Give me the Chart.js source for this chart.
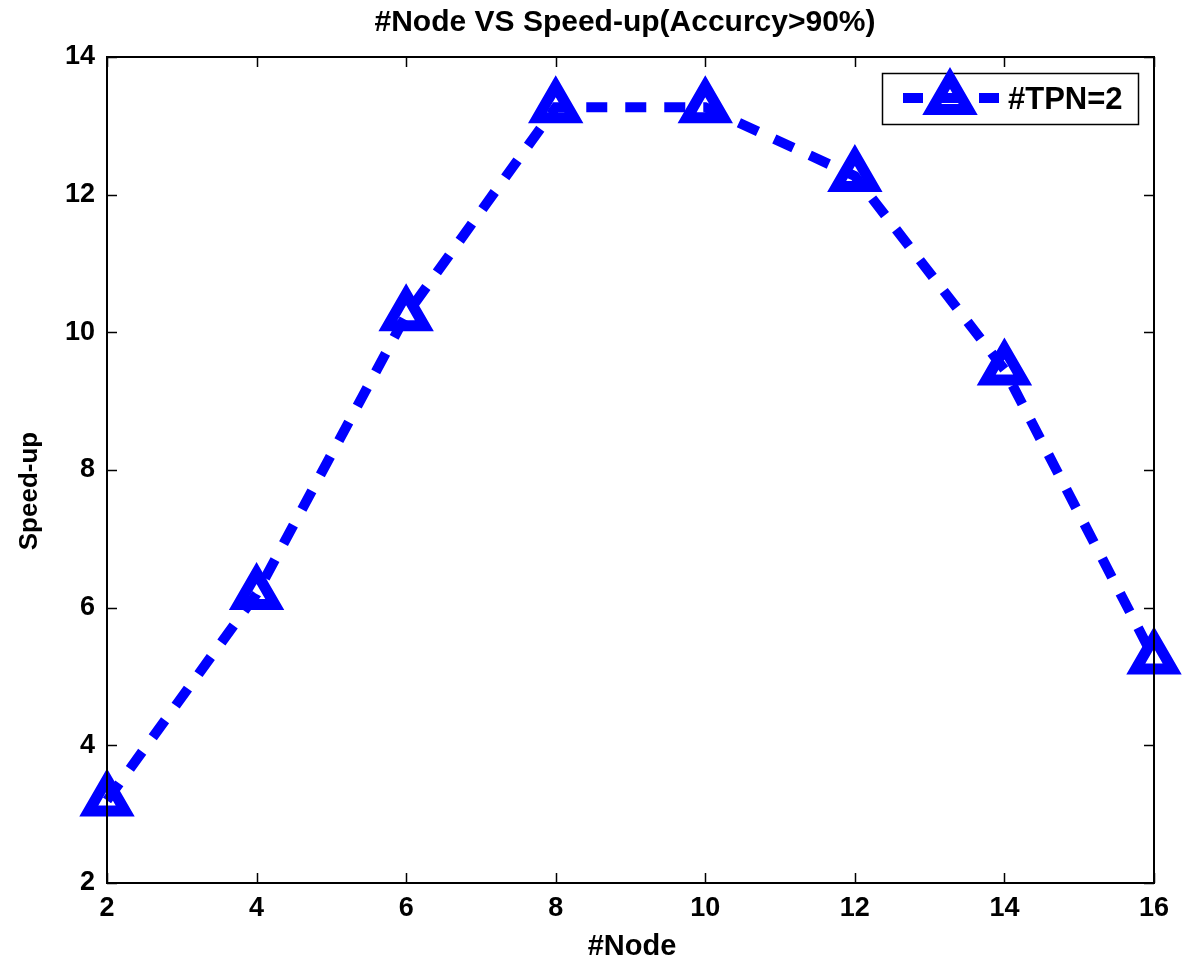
<!DOCTYPE html>
<html>
<head>
<meta charset="utf-8">
<script src="https://cdn.jsdelivr.net/npm/chart.js@4/dist/chart.umd.min.js"></script>
<style>
html,body{margin:0;padding:0;background:#fff;}
#wrap{width:1191px;height:964px;}
</style>
</head>
<body>
<div id="wrap"><canvas id="c" width="1191" height="964"></canvas></div>
<script>
const nodes = [2, 4, 6, 8, 10, 12, 14, 16];
const speedup = [3.2, 6.2, 10.25, 13.27, 13.27, 12.27, 9.46, 5.26];
const xTicks = [2, 4, 6, 8, 10, 12, 14, 16];
const yTicks = [2, 4, 6, 8, 10, 12, 14];
const chartTitle = '#Node VS Speed-up(Accurcy>90%)';
const xTitle = '#Node';
const yTitle = 'Speed-up';
const seriesLabel = '#TPN=2';

const FONT = 'Liberation Sans, Arial, Helvetica, sans-serif';
const BLUE = '#0000ff';
const MARK_R = 21, MARK_W = 11;

const joinPlugin = {
  id: 'join',
  beforeDatasetsDraw(chart) {
    chart.ctx.lineJoin = 'miter';
    chart.ctx.miterLimit = 10;
  }
};

const framePlugin = {
  id: 'frame',
  afterDraw(chart) {
    const ctx = chart.ctx, a = chart.chartArea;
    const xs = chart.scales.x, ys = chart.scales.y;
    ctx.save();
    ctx.strokeStyle = '#000';
    ctx.lineWidth = 2;
    ctx.strokeRect(a.left, a.top, a.right - a.left, a.bottom - a.top);
    ctx.lineWidth = 1.5;
    const tl = 10;
    ctx.beginPath();
    xTicks.forEach(v => {
      const px = Math.round(xs.getPixelForValue(v)) + 0.5;
      ctx.moveTo(px, a.bottom); ctx.lineTo(px, a.bottom - tl);
      ctx.moveTo(px, a.top); ctx.lineTo(px, a.top + tl);
    });
    yTicks.forEach(v => {
      const py = Math.round(ys.getPixelForValue(v)) + 0.5;
      ctx.moveTo(a.left, py); ctx.lineTo(a.left + tl, py);
      ctx.moveTo(a.right, py); ctx.lineTo(a.right - tl, py);
    });
    ctx.stroke();

    // titles
    ctx.fillStyle = '#000';
    ctx.textAlign = 'center';
    ctx.textBaseline = 'middle';
    ctx.font = 'bold 30px ' + FONT;
    ctx.fillText(chartTitle, 625, 23);
    ctx.font = 'bold 29px ' + FONT;
    ctx.fillText(xTitle, 632, 947);
    ctx.font = 'bold 26px ' + FONT;
    ctx.save();
    ctx.translate(30, 491);
    ctx.rotate(-Math.PI / 2);
    ctx.fillText(yTitle, 0, 0);
    ctx.restore();

    // legend
    const lx = 882, ly = 73, lw = 256, lh = 51;
    ctx.fillStyle = '#fff';
    ctx.fillRect(lx, ly, lw, lh);
    ctx.strokeStyle = '#000';
    ctx.lineWidth = 1.5;
    ctx.strokeRect(lx + 0.5, ly + 0.5, lw, lh);
    const cy = 98;
    ctx.strokeStyle = BLUE;
    ctx.lineWidth = 10;
    ctx.setLineDash([20, 18]);
    ctx.lineCap = 'butt';
    ctx.beginPath();
    ctx.moveTo(903, cy); ctx.lineTo(999, cy);
    ctx.stroke();
    ctx.setLineDash([]);
    // triangle marker
    const mx = 950, my = 99;
    ctx.lineWidth = MARK_W;
    ctx.beginPath();
    for (let i = 0; i < 3; i++) {
      const ang = -Math.PI / 2 + i * 2 * Math.PI / 3;
      const px = mx + MARK_R * Math.cos(ang), py = my + MARK_R * Math.sin(ang);
      if (i === 0) ctx.moveTo(px, py); else ctx.lineTo(px, py);
    }
    ctx.closePath();
    ctx.lineJoin = 'miter';
    ctx.stroke();
    ctx.fillStyle = '#000';
    ctx.textAlign = 'left';
    ctx.font = 'bold 31px ' + FONT;
    ctx.fillText(seriesLabel, 1008, 100);
    ctx.restore();
  }
};

new Chart(document.getElementById('c'), {
  type: 'line',
  data: {
    labels: nodes,
    datasets: [{
      label: seriesLabel,
      data: nodes.map((n, i) => ({x: n, y: speedup[i]})),
      borderColor: BLUE,
      borderWidth: 10,
      borderDash: [21, 18],
      borderCapStyle: 'butt',
      borderJoinStyle: 'miter',
      tension: 0,
      fill: false,
      clip: false,
      pointStyle: 'triangle',
      pointRadius: MARK_R,
      pointHoverRadius: MARK_R,
      pointBorderWidth: MARK_W,
      pointBorderColor: BLUE,
      pointBackgroundColor: 'rgba(0,0,0,0)'
    }]
  },
  options: {
    responsive: false,
    animation: false,
    events: [],
    layout: { padding: { top: 57, right: 37, bottom: 0, left: 0 } },
    plugins: { legend: { display: false }, title: { display: false }, tooltip: { enabled: false } },
    scales: {
      x: {
        type: 'linear', min: 2, max: 16,
        afterFit(s) { s.height = 81; },
        afterBuildTicks(s) { s.ticks = xTicks.map(v => ({value: v})); },
        grid: { display: false, drawTicks: false },
        border: { display: false },
        ticks: { color: '#000', font: { family: FONT, size: 27, weight: 'bold' }, padding: 9, maxRotation: 0, autoSkip: false }
      },
      y: {
        type: 'linear', min: 2, max: 14,
        afterFit(s) { s.width = 107; },
        afterBuildTicks(s) { s.ticks = yTicks.map(v => ({value: v})); },
        grid: { display: false, drawTicks: false },
        border: { display: false },
        ticks: { color: '#000', font: { family: FONT, size: 27, weight: 'bold' }, padding: 12, autoSkip: false }
      }
    }
  },
  plugins: [joinPlugin, framePlugin]
});
</script>
</body>
</html>
